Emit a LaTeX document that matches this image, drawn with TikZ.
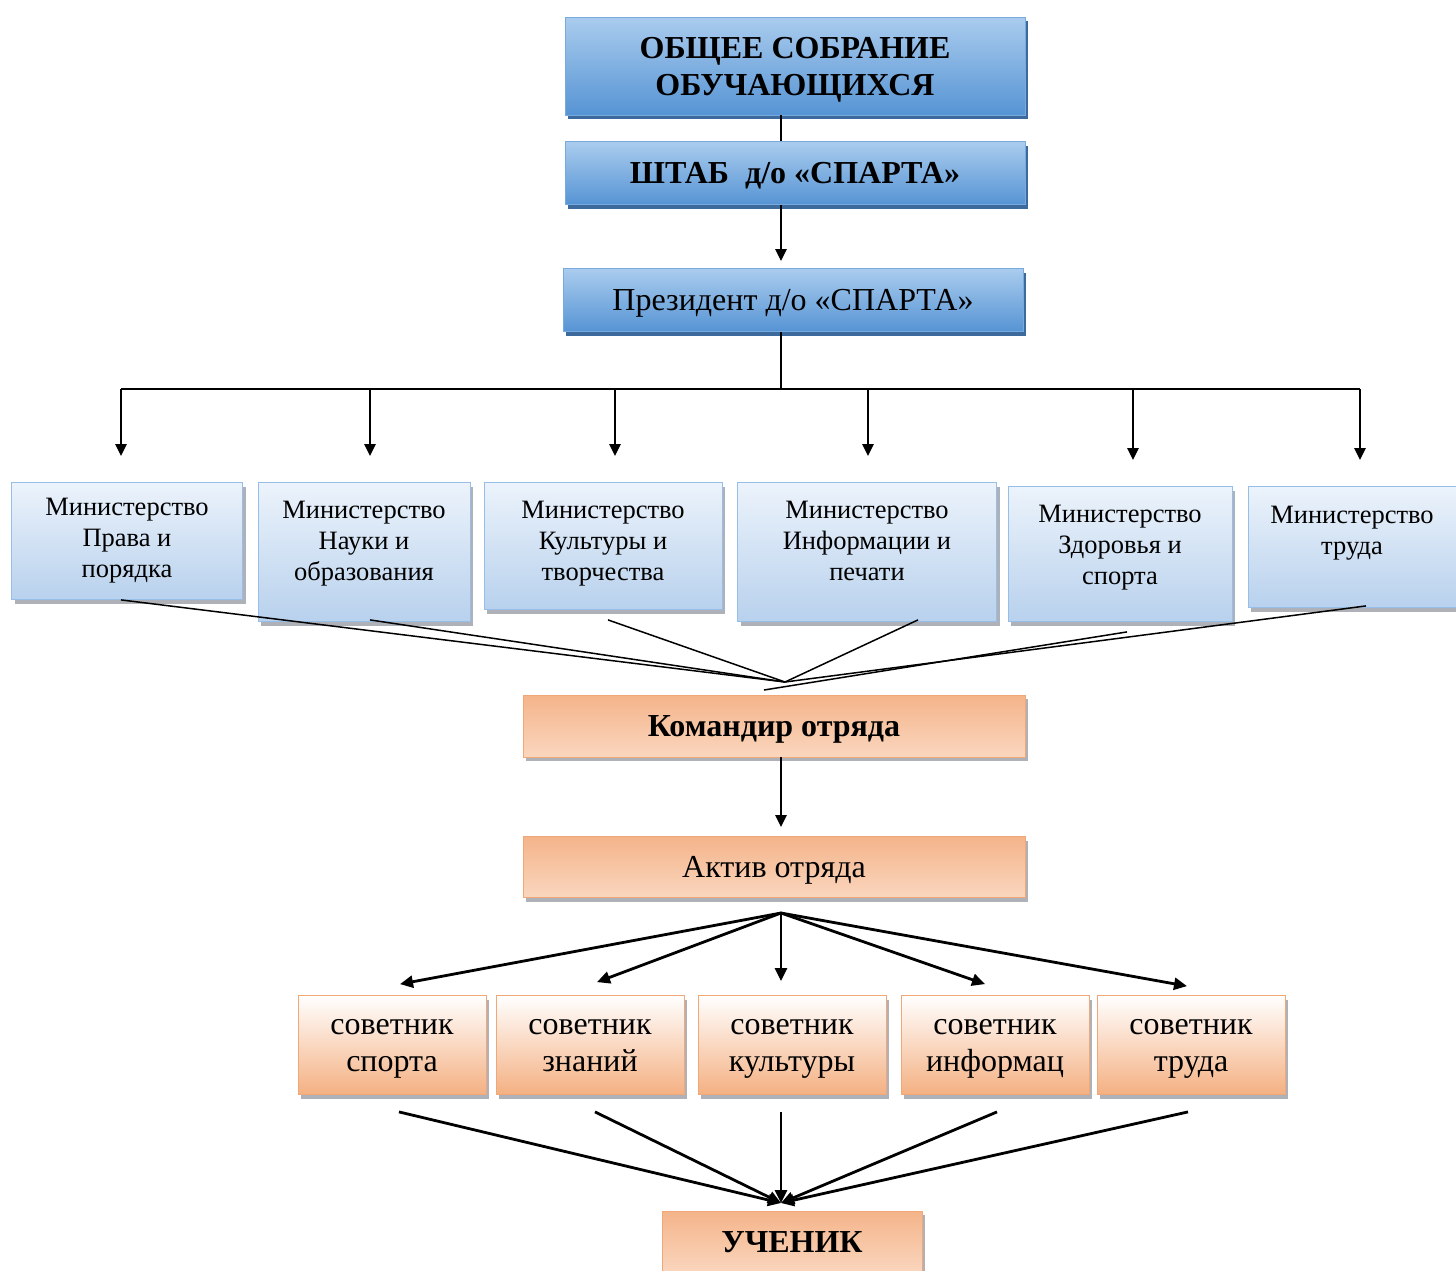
\documentclass[tikz,border=0pt]{standalone}
\usepackage{fontspec}
\setmainfont{Liberation Serif}
\usepackage{tikz}
\usepackage{tkz-euclide}
\usetikzlibrary{arrows.meta,shadows}

%Cores das caixas (azul escuro, azul claro e laranja)
\definecolor{azulTopo}{RGB}{170,204,238}
\definecolor{azulBase}{RGB}{86,148,212}
\definecolor{azulBorda}{RGB}{120,170,222}
\definecolor{azulSombra}{RGB}{40,90,145}
\definecolor{celesteTopo}{RGB}{236,243,251}
\definecolor{celesteBase}{RGB}{184,209,237}
\definecolor{celesteBorda}{RGB}{150,190,232}
\definecolor{laranjaTopo}{RGB}{244,180,138}
\definecolor{laranjaMeio}{RGB}{253,236,226}
\definecolor{laranjaBase}{RGB}{250,214,190}
\definecolor{laranjaForte}{RGB}{244,176,130}
\definecolor{laranjaBorda}{RGB}{240,168,120}
\definecolor{sombraCinza}{RGB}{120,125,135}

\tikzset{
caixaAzul/.style={rectangle, draw=azulBorda, line width=0.8pt, top color=azulTopo, bottom color=azulBase,
  drop shadow={shadow xshift=3pt, shadow yshift=-4pt, fill=azulSombra, opacity=0.9}, align=center, inner sep=0pt,
  text depth=0pt},
caixaCeleste/.style={rectangle, draw=celesteBorda, line width=0.8pt, top color=celesteTopo, bottom color=celesteBase,
  drop shadow={shadow xshift=3pt, shadow yshift=-4pt, fill=sombraCinza, opacity=0.6}, align=center, inner sep=0pt,
  font=\fontsize{26.5}{31}\selectfont},
caixaLaranja/.style={rectangle, draw=laranjaBorda, line width=0.8pt, top color=laranjaTopo, middle color=laranjaMeio, bottom color=laranjaBase,
  drop shadow={shadow xshift=3pt, shadow yshift=-4pt, fill=sombraCinza, opacity=0.6}, align=center, inner sep=0pt,
  font=\fontsize{32}{37}\selectfont, text depth=0pt},
caixaConselho/.style={rectangle, draw=laranjaBorda, line width=0.8pt, top color=white, bottom color=laranjaForte,
  drop shadow={shadow xshift=3pt, shadow yshift=-4pt, fill=sombraCinza, opacity=0.6}, align=center, inner sep=0pt,
  minimum width=188pt, minimum height=99pt, font=\fontsize{32}{37}\selectfont, text depth=0pt},
seta/.style={-{Triangle[length=12pt,width=11pt]}, line width=2.3pt},
setaGrossa/.style={-{Triangle[length=13pt,width=12pt]}, line width=2.8pt},
linhaFina/.style={line width=1.5pt}
}

\begin{document}
\begin{tikzpicture}[x=1pt,y=-1pt] %uma unidade = um ponto, eixo y para baixo
\useasboundingbox (0,0) rectangle (1456,1270);

%O comando \tkzDefPoints define os centros das caixas e os pontos de apoio das ligacoes (x/y/NomedoPonto)
\tkzDefPoints{
795/66/A,
795/173/B,
793/300/C,
127/541/D,
364/552/E,
603/546/F,
867/552/G,
1120/554/H,
1352/547/I,
774/726/J,
774/867/K,
392/1045/L,
590/1045/M,
792/1045/N,
995/1045/O,
1191/1045/P,
792/1242/Q,
781/389/R,
121/389/T1,
370/389/T2,
615/389/T3,
868/389/T4,
1133/389/T5,
1360/389/T6,
785/682/U,
764/690/V,
781/913/W,
781/1203/X}

%Caixas azuis do topo
%---------------------------------------------------
\node[caixaAzul, minimum width=460pt, minimum height=98pt, font=\fontsize{32}{37}\selectfont\bfseries] (assembleia) at (A) {ОБЩЕЕ СОБРАНИЕ\\ОБУЧАЮЩИХСЯ};
\node[caixaAzul, minimum width=460pt, minimum height=63pt, font=\fontsize{32}{37}\selectfont\bfseries] (estado) at (B) {ШТАБ\ \ д/о «СПАРТА»};
\node[caixaAzul, minimum width=460pt, minimum height=63pt, font=\fontsize{32}{37}\selectfont] (presidente) at (C) {Президент д/о «СПАРТА»};
%---------------------------------------------------

%Caixas dos ministerios (text depth sobe o texto nas caixas mais altas)
%---------------------------------------------------
\node[caixaCeleste, minimum width=231pt, minimum height=117pt] (mDireito) at (D) {Министерство\\Права и\\порядка};
\node[caixaCeleste, minimum width=212pt, minimum height=139pt, text depth=22pt] (mCiencia) at (E) {Министерство\\Науки и\\образования};
\node[caixaCeleste, minimum width=238pt, minimum height=127pt, text depth=10pt] (mCultura) at (F) {Министерство\\Культуры и\\творчества};
\node[caixaCeleste, minimum width=259pt, minimum height=139pt, text depth=22pt] (mInfo) at (G) {Министерство\\Информации и\\печати};
\node[caixaCeleste, minimum width=224pt, minimum height=135pt, text depth=18pt] (mSaude) at (H) {Министерство\\Здоровья и\\спорта};
\node[caixaCeleste, minimum width=208pt, minimum height=121pt, text depth=34pt] (mTrabalho) at (I) {Министерство\\труда};
%---------------------------------------------------

%Caixas laranjas do destacamento
%---------------------------------------------------
\node[caixaLaranja, minimum width=502pt, minimum height=62pt, font=\fontsize{32}{37}\selectfont\bfseries] (comandante) at (J) {Командир отряда};
\node[caixaLaranja, minimum width=502pt, minimum height=61pt] (ativo) at (K) {Актив отряда};
\node[caixaConselho] (cEsporte) at (L) {советник\\спорта};
\node[caixaConselho] (cSaber) at (M) {советник\\знаний};
\node[caixaConselho] (cCultura) at (N) {советник\\культуры};
\node[caixaConselho] (cInfo) at (O) {советник\\информац};
\node[caixaConselho] (cTrabalho) at (P) {советник\\труда};
\node[caixaLaranja, minimum width=260pt, minimum height=62pt, font=\fontsize{32}{37}\selectfont\bfseries] (aluno) at (Q) {УЧЕНИК};
%---------------------------------------------------

%Ligacoes do eixo central
%---------------------------------------------------
\draw[line width=2.3pt] (assembleia.south -| R) -- (estado.north -| R);
\draw[seta, shorten >=7pt] (estado.south -| R) -- (presidente.north -| R);
\draw[line width=1.6pt] (presidente.south -| R) -- (R);
\draw[line width=1.6pt] (T1) -- (T6);

%Setas da barra ate os ministerios
%---------------------------------------------------
\foreach \t/\m in {T1/mDireito, T2/mCiencia, T3/mCultura, T4/mInfo, T5/mSaude, T6/mTrabalho}
  \draw[seta, shorten >=26pt] (\t) -- (\t |- \m.north);

%Linhas dos ministerios ate o comandante
%---------------------------------------------------
\draw[linhaFina] ([xshift=-6pt]mDireito.south) -- (U);
\draw[linhaFina] ([xshift=6pt,yshift=2pt]mCiencia.south) -- (U);
\draw[linhaFina] ([xshift=5pt,yshift=-10pt]mCultura.south) -- (U);
\draw[linhaFina] ([xshift=51pt,yshift=2pt]mInfo.south) -- (U);
\draw[linhaFina] ([xshift=7pt,yshift=-10pt]mSaude.south) -- (V);
\draw[linhaFina] ([xshift=14pt,yshift=2pt]mTrabalho.south) -- (U);

%Do comandante ao ativo
%---------------------------------------------------
\draw[seta, shorten >=9pt] (comandante.south -| R) -- (ativo.north -| R);

%Do ponto W ate os conselheiros
%---------------------------------------------------
\foreach \c/\dx/\dy in {cEsporte/8/11, cSaber/7/13, cCultura/-11/14, cInfo/-10/11, cTrabalho/-4/9}
  \draw[setaGrossa] (W) -- ([xshift=\dx pt, yshift=\dy pt]\c.north);

%Dos conselheiros ate o aluno
%---------------------------------------------------
\foreach \c/\dx in {cEsporte/7, cSaber/5, cCultura/-11, cInfo/2, cTrabalho/-3}
  \draw[setaGrossa] ([xshift=\dx pt, yshift=-17pt]\c.south) -- (X);

\end{tikzpicture}
\end{document}
